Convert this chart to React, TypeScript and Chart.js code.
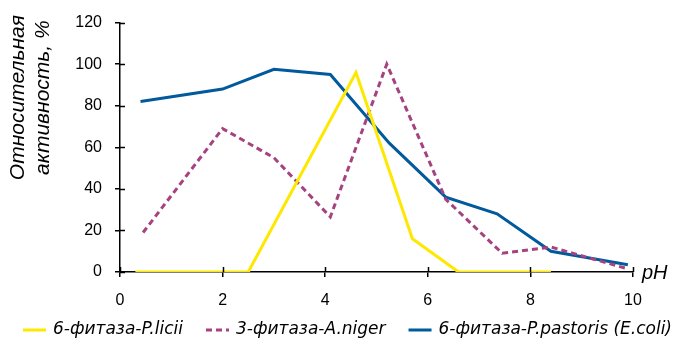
import React, { useEffect, useRef } from 'react';
import { Chart, registerables } from 'chart.js';

Chart.register(...registerables);

// ---- data ----
const xTicks = [0, 2, 4, 6, 8, 10];
const yTicks = [0, 20, 40, 60, 80, 100, 120];
const seriesLabels = ['6-фитаза-P.licii', '3-фитаза-A.niger', '6-фитаза-P.pastoris (E.coli)'];
const liciiPH = [0.3, 2.5, 4.6, 5.7, 6.6, 8.4];
const liciiAct = [0, 0, 96, 16, 0, 0];
const nigerPH = [0.45, 2.0, 3.0, 4.1, 5.2, 6.35, 7.45, 8.4, 9.9];
const nigerAct = [19, 69, 55, 26.5, 100, 35, 9, 12, 1.5];
const pastorisPH = [0.4, 2.0, 3.0, 4.1, 5.25, 6.35, 7.35, 8.4, 9.9];
const pastorisAct = [82, 88, 97.5, 95, 62, 36, 28, 10, 3.5];
const yTitleLines = ['Относительная', 'активность, %'];
const xTitle = 'pH';

const toPoints = (xs: number[], ys: number[]) => xs.map((x, i) => ({ x, y: ys[i] }));

const extrasPlugin = {
  id: 'extras',
  afterDraw(chart: any) {
    const ctx = chart.ctx as CanvasRenderingContext2D;
    const { chartArea } = chart;
    const xs = chart.scales.x;
    const ys = chart.scales.y;
    ctx.save();
    // inward tick halves
    ctx.strokeStyle = '#000';
    ctx.lineWidth = 1.5;
    ctx.beginPath();
    xs.ticks.forEach((t: any) => {
      const px = Math.round(xs.getPixelForValue(t.value)) + 0.5;
      ctx.moveTo(px, chartArea.bottom);
      ctx.lineTo(px, chartArea.bottom - 5);
    });
    ys.ticks.forEach((t: any) => {
      const py = Math.round(ys.getPixelForValue(t.value)) + 0.5;
      ctx.moveTo(chartArea.left, py);
      ctx.lineTo(chartArea.left + 5, py);
    });
    ctx.stroke();

    // y title (two rotated lines)
    ctx.fillStyle = '#000';
    ctx.font = 'italic 21px "Liberation Sans", Arial, sans-serif';
    ctx.textAlign = 'center';
    ctx.textBaseline = 'middle';
    const cy = chartArea.top + 75;
    const lineXs = [18, 43];
    yTitleLines.forEach((line, i) => {
      ctx.save();
      ctx.translate(lineXs[i], cy);
      ctx.rotate(-Math.PI / 2);
      ctx.fillText(line, 0, 0);
      ctx.restore();
    });

    // pH label
    ctx.textAlign = 'left';
    ctx.font = 'italic 20px "Liberation Sans", Arial, sans-serif';
    ctx.fillText(xTitle, chartArea.right + 9, chartArea.bottom + 1);

    // legend
    ctx.font = 'oblique 17px "DejaVu Sans", sans-serif';
    let x = 23;
    const y = 330;
    chart.data.datasets.forEach((ds: any) => {
      ctx.strokeStyle = ds.borderColor;
      ctx.lineWidth = 3;
      ctx.setLineDash(ds.borderDash || []);
      ctx.beginPath();
      ctx.moveTo(x, y);
      ctx.lineTo(x + 23, y);
      ctx.stroke();
      ctx.setLineDash([]);
      x += 30;
      ctx.fillStyle = '#000';
      ctx.textBaseline = 'middle';
      ctx.textAlign = 'left';
      ctx.fillText(ds.label, x, y);
      x += ctx.measureText(ds.label).width + 23;
    });
    ctx.restore();
  },
};

export default function App() {
  const ref = useRef<HTMLCanvasElement>(null);
  useEffect(() => {
    document.body.style.margin = '0';
    const chart = new Chart(ref.current!, {
      type: 'line',
      data: {
        datasets: [
          {
            label: seriesLabels[0],
            data: toPoints(liciiPH, liciiAct),
            borderColor: '#FFE800',
            borderWidth: 3,
            pointRadius: 0,
            tension: 0,
          },
          {
            label: seriesLabels[1],
            data: toPoints(nigerPH, nigerAct),
            borderColor: '#A5427F',
            borderWidth: 3,
            borderDash: [6, 4],
            pointRadius: 0,
            tension: 0,
          },
          {
            label: seriesLabels[2],
            data: toPoints(pastorisPH, pastorisAct),
            borderColor: '#005A9C',
            borderWidth: 3,
            pointRadius: 0,
            tension: 0,
          },
        ],
      },
      options: {
        animation: false,
        responsive: false,
        layout: { padding: { left: 0, right: 42, top: 20, bottom: 26 } },
        plugins: { legend: { display: false }, tooltip: { enabled: false } },
        scales: {
          x: {
            type: 'linear',
            min: 0,
            max: 10,
            afterBuildTicks: (s: any) => { s.ticks = xTicks.map((v) => ({ value: v })); },
            afterFit: (s: any) => { s.height = 40; },
            grid: { display: true, drawOnChartArea: false, drawTicks: true, tickLength: 5, color: '#000', lineWidth: 1.5 },
            border: { display: true, color: '#000', width: 1.5 },
            ticks: { color: '#000', padding: 14, font: { family: '"Liberation Sans", Arial, sans-serif', size: 16 } },
          },
          y: {
            type: 'linear',
            min: 0,
            max: 120,
            afterBuildTicks: (s: any) => { s.ticks = yTicks.map((v) => ({ value: v })); },
            afterFit: (s: any) => { s.width = 120; },
            grid: { display: true, drawOnChartArea: false, drawTicks: true, tickLength: 5, color: '#000', lineWidth: 1.5 },
            border: { display: true, color: '#000', width: 1.5 },
            ticks: { color: '#000', padding: 13, font: { family: '"Liberation Sans", Arial, sans-serif', size: 16 } },
          },
        },
      },
      plugins: [extrasPlugin],
    });
    return () => chart.destroy();
  }, []);
  return (
    <div style={{ width: 675, height: 338 }}>
      <canvas ref={ref} width={675} height={338} style={{ display: 'block' }} />
    </div>
  );
}
